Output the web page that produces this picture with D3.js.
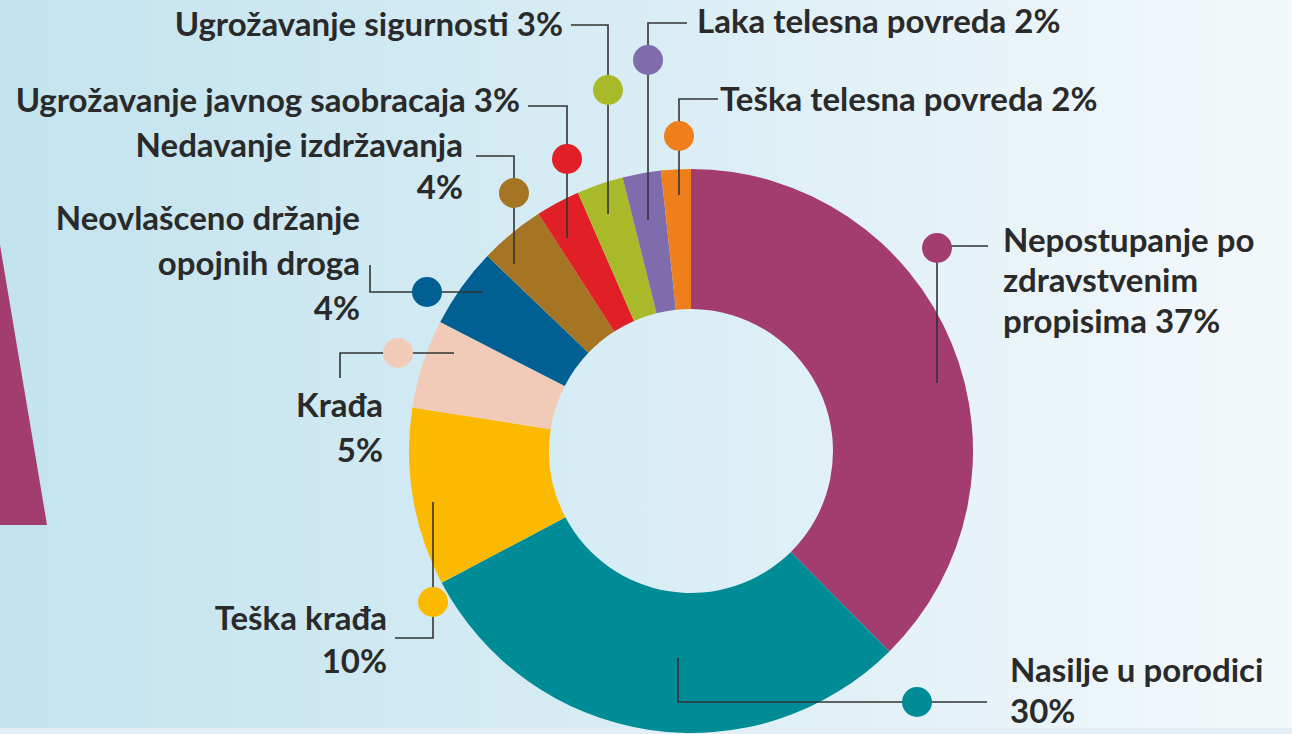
<!DOCTYPE html>
<html>
<head>
<meta charset="utf-8">
<script src="https://cdn.jsdelivr.net/npm/d3@7"></script>
<style>
  html, body { margin: 0; padding: 0; background: #e9f3f8; }
  svg { display: block; }
  .lbl { font-family: Lato, "Open Sans", sans-serif; font-weight: 700; font-size: 33px; fill: #2a2a2a; }
</style>
</head>
<body>
<div id="chart"></div>
<script>
// slices clockwise from 12 o'clock
const categories = [
    "Nepostupanje po zdravstvenim propisima",
    "Nasilje u porodici",
    "Teška krađa",
    "Krađa",
    "Neovlašceno držanje opojnih droga",
    "Nedavanje izdržavanja",
    "Ugrožavanje javnog saobracaja",
    "Ugrožavanje sigurnosti",
    "Laka telesna povreda",
    "Teška telesna povreda"
];
const percentLabels = ["37%", "30%", "10%", "5%", "4%", "4%", "3%", "3%", "2%", "2%"];
// share of the ring as drawn in the original
const shares = [37.6, 29.7, 10.2, 5.1, 4.6, 3.75, 2.53, 2.67, 2.2, 1.7];
const colors = ["#A33C6F", "#008C96", "#FBBA00", "#F2CBB8", "#005F93",
                "#A67524", "#E11F26", "#A8BA2A", "#7E6CAD", "#EE7F1B"];

// callout layout: leader polyline, dot, text position / alignment, words per line
const callouts = [
    {pts: [[937,383],[937,246],[988,246]], dot: [937,248], x: 1003, anchor: "start", y: [252,292,333], words: [2,1,2]},
    {pts: [[678,658],[678,702],[987,702]], dot: [917,702], x: 1010, anchor: "start", y: [682,723], words: [3,1]},
    {pts: [[433,502],[433,638],[395,638]], dot: [433,602], x: 387, anchor: "end", y: [630,673], words: [2,1]},
    {pts: [[454,353],[340,353],[340,378]], dot: [398,353], x: 383, anchor: "end", y: [417,462], words: [1,1]},
    {pts: [[483,292],[370,292],[370,265]], dot: [427,292], x: 360, anchor: "end", y: [230,275,320], words: [2,2,1]},
    {pts: [[514,264],[514,156],[476,156]], dot: [514,193], x: 463, anchor: "end", y: [157,199], words: [2,1]},
    {pts: [[567,238],[567,106],[528,106]], dot: [567,159], x: 520, anchor: "end", y: [112], words: [4]},
    {pts: [[608,214],[608,25],[571,25]], dot: [608,90], x: 563, anchor: "end", y: [36], words: [3]},
    {pts: [[648,220],[648,23],[687,23]], dot: [648,60], x: 697, anchor: "start", y: [33], words: [4]},
    {pts: [[679,195],[679,99],[718,99]], dot: [679,136], x: 720, anchor: "start", y: [111], words: [4]}
];

const width = 1292, height = 734;
const cx = 691, cy = 451, outerR = 282, innerR = 142;

const svg = d3.select("#chart").append("svg")
    .attr("width", width)
    .attr("height", height);

// background
const defs = svg.append("defs");
const grad = defs.append("linearGradient").attr("id", "bg")
    .attr("x1", "0%").attr("x2", "100%").attr("y1", "0%").attr("y2", "0%");
grad.append("stop").attr("offset", "0%").attr("stop-color", "#c2e3ee");
grad.append("stop").attr("offset", "50%").attr("stop-color", "#d9edf5");
grad.append("stop").attr("offset", "100%").attr("stop-color", "#f4f9fb");

svg.append("rect").attr("width", width).attr("height", height).attr("fill", "url(#bg)");
svg.append("rect").attr("y", 728).attr("width", width).attr("height", 6).attr("fill", "#e4eff8");

// magenta wedge on the left edge
svg.append("path")
    .attr("d", "M0,245 L47,525 L0,525 Z")
    .attr("fill", "#A33C6F");

// donut
const pie = d3.pie().sort(null).value(d => d);
const arc = d3.arc().innerRadius(innerR).outerRadius(outerR);

const g = svg.append("g").attr("transform", `translate(${cx},${cy})`);
g.selectAll(".slice")
    .data(pie(shares))
    .enter()
    .append("path")
    .attr("class", "slice")
    .attr("d", arc)
    .attr("fill", (d, i) => colors[i]);

// leader lines
const line = d3.line();
svg.selectAll(".leader")
    .data(callouts)
    .enter()
    .append("path")
    .attr("class", "leader")
    .attr("d", d => line(d.pts))
    .attr("fill", "none")
    .attr("stroke", "#333")
    .attr("stroke-width", 1.6);

svg.selectAll(".dot")
    .data(callouts)
    .enter()
    .append("circle")
    .attr("class", "dot")
    .attr("cx", d => d.dot[0])
    .attr("cy", d => d.dot[1])
    .attr("r", 15)
    .attr("fill", (d, i) => colors[i]);

// labels
callouts.forEach((c, i) => {
    const words = (categories[i] + " " + percentLabels[i]).split(" ");
    let k = 0;
    c.words.forEach((n, j) => {
        svg.append("text")
            .attr("class", "lbl")
            .attr("x", c.x)
            .attr("y", c.y[j])
            .attr("text-anchor", c.anchor)
            .text(words.slice(k, k + n).join(" "));
        k += n;
    });
});
</script>
</body>
</html>
